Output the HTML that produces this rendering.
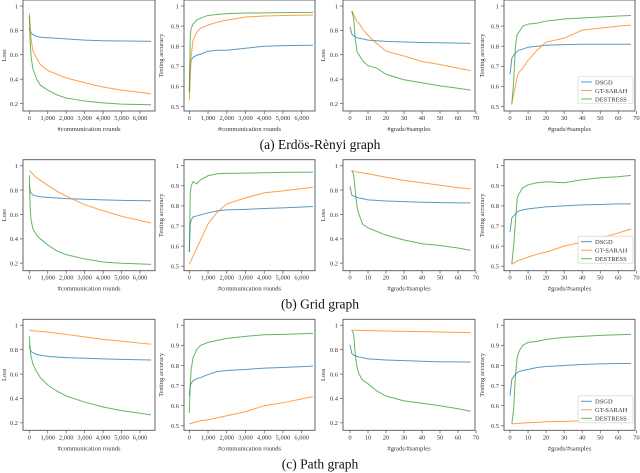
<!DOCTYPE html>
<html><head><meta charset="utf-8"><style>
html,body{margin:0;padding:0;background:#fff;}
svg{display:block;font-family:"Liberation Serif",serif;}
</style></head><body>
<svg id="fig" width="640" height="473" viewBox="0 0 640 473"></svg>
<script>
// shared x categories
const roundsX = [0,50,100,200,400,600,1000,1500,2000,3000,4000,5000,6600];
const gradsX = [0,1,2,3,4,5,7,10,15,20,30,40,50,60,67];
const roundTicks = [0,1000,2000,3000,4000,5000,6000];
const roundTickLabels = ["0","1,000","2,000","3,000","4,000","5,000","6,000"];
const gradTicks = [0,10,20,30,40,50,60,70];
const lossTicks = [0.2,0.4,0.6,0.8,1];
const lossTickLabels = ["0.2","0.4","0.6","0.8","1"];
const accTicks = [0.5,0.6,0.7,0.8,0.9,1];
const accTickLabels = ["0.5","0.6","0.7","0.8","0.9","1"];
const seriesNames = ["DSGD","GT-SARAH","DESTRESS"];
const captions = ["(a) Erdös-Rènyi graph","(b) Grid graph","(c) Path graph"];

// Row a: Erdos-Renyi
const a_lossRounds_dsgd = [0.82,0.79,0.78,0.765,0.75,0.745,0.74,0.735,0.73,0.72,0.715,0.713,0.71];
const a_lossRounds_gt = [0.94,0.85,0.72,0.63,0.57,0.52,0.47,0.44,0.41,0.37,0.335,0.31,0.28];
const a_lossRounds_des = [0.92,0.70,0.58,0.48,0.40,0.35,0.31,0.27,0.245,0.22,0.205,0.195,0.19];
const a_accRounds_dsgd = [0.57,0.70,0.73,0.745,0.755,0.76,0.775,0.78,0.78,0.79,0.80,0.803,0.805];
const a_accRounds_gt = [0.53,0.65,0.75,0.83,0.87,0.89,0.905,0.92,0.93,0.945,0.95,0.953,0.955];
const a_accRounds_des = [0.57,0.85,0.89,0.91,0.93,0.94,0.953,0.958,0.962,0.965,0.966,0.967,0.968];
const a_lossGrads_dsgd = [0.83,0.77,0.755,0.745,0.74,0.735,0.73,0.72,0.715,0.71,0.705,0.70,0.698,0.695,0.693];
const a_lossGrads_gt = [null,0.96,0.93,0.90,0.87,0.86,0.81,0.76,0.69,0.63,0.59,0.545,0.52,0.49,0.47];
const a_lossGrads_des = [null,0.96,0.90,0.72,0.62,0.60,0.55,0.51,0.49,0.44,0.395,0.37,0.345,0.325,0.31];
const a_accGrads_dsgd = [0.66,0.74,0.755,0.765,0.775,0.78,0.785,0.795,0.80,0.805,0.808,0.81,0.81,0.81,0.81];
const a_accGrads_gt = [null,0.52,0.56,0.60,0.65,0.67,0.69,0.73,0.78,0.82,0.84,0.88,0.89,0.90,0.905];
const a_accGrads_des = [null,0.51,0.62,0.80,0.86,0.87,0.90,0.91,0.915,0.925,0.935,0.94,0.945,0.95,0.953];

// Row b: Grid
const b_lossRounds_dsgd = [0.84,0.79,0.775,0.76,0.75,0.745,0.74,0.735,0.73,0.725,0.72,0.715,0.712];
const b_lossRounds_gt = [0.96,0.955,0.945,0.93,0.90,0.88,0.84,0.79,0.75,0.68,0.63,0.585,0.53];
const b_lossRounds_des = [0.92,0.65,0.55,0.48,0.43,0.40,0.35,0.30,0.27,0.235,0.21,0.20,0.19];
const b_accRounds_dsgd = [0.57,0.71,0.73,0.745,0.75,0.755,0.765,0.775,0.78,0.783,0.787,0.79,0.797];
const b_accRounds_gt = [0.51,0.52,0.53,0.55,0.59,0.63,0.71,0.77,0.81,0.84,0.865,0.875,0.893];
const b_accRounds_des = [0.57,0.86,0.90,0.92,0.91,0.93,0.95,0.96,0.962,0.963,0.965,0.967,0.968];
const b_lossGrads_dsgd = [0.83,0.76,0.75,0.745,0.74,0.735,0.73,0.72,0.715,0.71,0.705,0.70,0.697,0.695,0.695];
const b_lossGrads_gt = [null,0.96,0.955,0.95,0.948,0.945,0.94,0.935,0.92,0.905,0.88,0.86,0.84,0.82,0.81];
const b_lossGrads_des = [null,0.96,0.93,0.78,0.65,0.60,0.52,0.49,0.46,0.43,0.39,0.36,0.345,0.325,0.305];
const b_accGrads_dsgd = [0.67,0.74,0.75,0.76,0.77,0.775,0.78,0.785,0.79,0.795,0.80,0.805,0.807,0.81,0.81];
const b_accGrads_gt = [null,0.51,0.515,0.52,0.525,0.53,0.535,0.545,0.56,0.57,0.60,0.62,0.64,0.665,0.685];
const b_accGrads_des = [null,0.51,0.60,0.72,0.84,0.86,0.89,0.905,0.915,0.92,0.915,0.93,0.94,0.945,0.952];

// Row c: Path
const c_lossRounds_dsgd = [0.84,0.80,0.785,0.775,0.76,0.755,0.745,0.74,0.735,0.73,0.725,0.72,0.715];
const c_lossRounds_gt = [0.96,0.958,0.956,0.955,0.952,0.95,0.945,0.935,0.925,0.905,0.885,0.87,0.845];
const c_lossRounds_des = [0.91,0.80,0.74,0.68,0.62,0.57,0.51,0.46,0.42,0.37,0.33,0.30,0.265];
const c_accRounds_dsgd = [0.65,0.70,0.71,0.725,0.735,0.74,0.755,0.77,0.775,0.78,0.787,0.79,0.797];
const c_accRounds_gt = [0.51,0.51,0.512,0.515,0.52,0.525,0.53,0.54,0.55,0.57,0.60,0.615,0.645];
const c_accRounds_des = [0.565,0.70,0.78,0.84,0.88,0.90,0.915,0.925,0.935,0.945,0.953,0.955,0.96];
const c_lossGrads_dsgd = [0.84,0.77,0.755,0.75,0.745,0.74,0.735,0.725,0.72,0.715,0.71,0.705,0.70,0.70,0.698];
const c_lossGrads_gt = [null,0.96,0.96,0.96,0.959,0.958,0.957,0.956,0.955,0.953,0.95,0.948,0.945,0.942,0.94];
const c_lossGrads_des = [null,0.96,0.93,0.75,0.65,0.60,0.55,0.52,0.46,0.42,0.38,0.36,0.34,0.315,0.295];
const c_accGrads_dsgd = [0.65,0.73,0.745,0.755,0.765,0.77,0.775,0.78,0.79,0.795,0.80,0.805,0.808,0.81,0.81];
const c_accGrads_gt = [null,0.51,0.51,0.511,0.512,0.513,0.514,0.515,0.517,0.52,0.522,0.525,0.527,0.529,0.53];
const c_accGrads_des = [null,0.51,0.58,0.75,0.84,0.87,0.90,0.915,0.92,0.93,0.94,0.945,0.95,0.953,0.955];

const rows = [
  [[a_lossRounds_dsgd,a_lossRounds_gt,a_lossRounds_des],[a_accRounds_dsgd,a_accRounds_gt,a_accRounds_des],[a_lossGrads_dsgd,a_lossGrads_gt,a_lossGrads_des],[a_accGrads_dsgd,a_accGrads_gt,a_accGrads_des]],
  [[b_lossRounds_dsgd,b_lossRounds_gt,b_lossRounds_des],[b_accRounds_dsgd,b_accRounds_gt,b_accRounds_des],[b_lossGrads_dsgd,b_lossGrads_gt,b_lossGrads_des],[b_accGrads_dsgd,b_accGrads_gt,b_accGrads_des]],
  [[c_lossRounds_dsgd,c_lossRounds_gt,c_lossRounds_des],[c_accRounds_dsgd,c_accRounds_gt,c_accRounds_des],[c_lossGrads_dsgd,c_lossGrads_gt,c_lossGrads_des],[c_accGrads_dsgd,c_accGrads_gt,c_accGrads_des]]
];

const NS = "http://www.w3.org/2000/svg";
const svg = document.getElementById("fig");
const colors = ["#1f77b4","#ff7f0e","#2ca02c"];
const rowTops = [0,159.7,319.3];
const cols = [
  {L:23,R:155,x0:29.3,x1:140,v1:6000,kind:"rounds",loss:true,ylx:6},
  {L:184,R:315,x0:189.3,x1:301.7,v1:6000,kind:"rounds",loss:false,ylx:163},
  {L:343,R:475,x0:350,x1:458,v1:60,kind:"grads",loss:true,ylx:325},
  {L:504,R:635,x0:510,x1:618.3,v1:60,kind:"grads",loss:false,ylx:484}
];
function mk(tag, attrs, parent){
  const e = document.createElementNS(NS, tag);
  for (const k in attrs) e.setAttribute(k, attrs[k]);
  (parent||svg).appendChild(e);
  return e;
}
function txt(s, attrs, parent){ const e = mk("text", attrs, parent); e.textContent = s; return e; }

rows.forEach((row, ri) => {
  const T = rowTops[ri];
  cols.forEach((c, ci) => {
    const g = mk("g", {});
    
    
    const top = T, bot = T + 111;
    const yv0 = c.loss ? 0.2 : 0.5, yp0 = c.loss ? T+103.5 : T+106.5;
    const yp1 = T + 6;
    const xs = v => c.x0 + (v / c.v1) * (c.x1 - c.x0);
    const ys = v => yp0 + (v - yv0) / (1 - yv0) * (yp1 - yp0);
    const xcat = c.kind === "rounds" ? roundsX : gradsX;
    // series
    row[ci].forEach((vals, si) => {
      let d = "";
      vals.forEach((v, i) => {
        if (v === null) return;
        d += (d ? "L" : "M") + xs(xcat[i]).toFixed(2) + "," + ys(v).toFixed(2);
      });
      const p = mk("path", {d:d, fill:"none", stroke:colors[si], "stroke-width":1, "stroke-opacity":0.75}, g);
      
      
    });
    // frame
    const fr = mk("rect", {x:c.L, y:top, width:c.R-c.L, height:bot-top, fill:"none", stroke:"#555", "stroke-width":0.9}, g);
    
    
    // y ticks
    const yt = c.loss ? lossTicks : accTicks, ytl = c.loss ? lossTickLabels : accTickLabels;
    yt.forEach((v, i) => {
      const y = ys(v);
      mk("line", {x1:c.L-3, x2:c.L, y1:y, y2:y, stroke:"#555", "stroke-width":0.7}, g);
      const t = txt(ytl[i], {x:c.L-5, y:y+2.3, "font-size":6.5, "text-anchor":"end", fill:"#333"}, g);
      
      
    });
    // x ticks
    const xt = c.kind === "rounds" ? roundTicks : gradTicks;
    xt.forEach((v, i) => {
      const x = xs(v);
      mk("line", {x1:x, x2:x, y1:bot, y2:bot+3, stroke:"#555", "stroke-width":0.7}, g);
      const lab = c.kind === "rounds" ? roundTickLabels[i] : String(v);
      const t = txt(lab, {x:x, y:bot+9, "font-size":6.5, "text-anchor":"middle", fill:"#333"}, g);
      
      
    });
    // axis titles
    const xl = txt(c.kind === "rounds" ? "#communication rounds" : "#grads/#samples",
      {x:(c.L+c.R)/2, y:bot+20, "font-size":6.5, "text-anchor":"middle", fill:"#333"}, g);
    
    
    const ycy = (top+bot)/2;
    const yl = txt(c.loss ? "Loss" : "Testing accuracy",
      {x:c.ylx, y:ycy, "font-size":6.5, "text-anchor":"middle", fill:"#333", transform:"rotate(-90 "+c.ylx+" "+ycy+")"}, g);
    
    
    // legend
    if (ci === 3) {
      const lg = mk("g", {}, g);
      
      
      mk("rect", {x:578, y:T+76.5, width:55, height:27, fill:"#fff", "fill-opacity":0.85, stroke:"#ccc", "stroke-width":0.6, rx:1}, lg);
      seriesNames.forEach((n, si) => {
        const ly = T + 82 + si*8.5;
        mk("line", {x1:581, x2:592, y1:ly, y2:ly, stroke:colors[si], "stroke-width":1, "stroke-opacity":0.75}, lg);
        const t = txt(n, {x:595, y:ly+2.3, "font-size":6.5, fill:"#333"}, lg);
        
        
      });
    }
  });
  const cap = txt(captions[ri], {x:320, y:T+149, "font-size":13.5, "text-anchor":"middle", fill:"#111"});
  
  
});
</script>
</body></html>
